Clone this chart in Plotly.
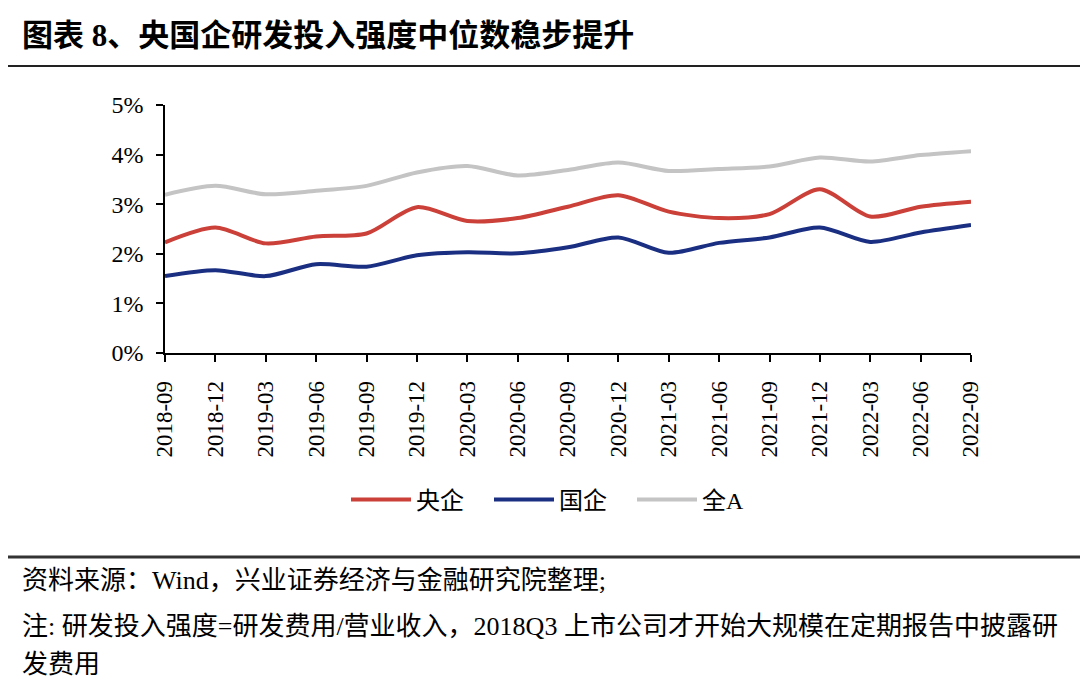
import plotly.graph_objects as go

W, H = 1080, 689
L, R, T, B = 165, 971, 105, 353  # plot area in pixels

dates = ["2018-09", "2018-12", "2019-03", "2019-06", "2019-09", "2019-12",
         "2020-03", "2020-06", "2020-09", "2020-12", "2021-03", "2021-06",
         "2021-09", "2021-12", "2022-03", "2022-06", "2022-09"]
central_soe = [2.23, 2.53, 2.21, 2.35, 2.41, 2.94, 2.66, 2.72, 2.95, 3.18,
               2.85, 2.72, 2.80, 3.30, 2.75, 2.95, 3.05]
soe = [1.55, 1.67, 1.55, 1.79, 1.74, 1.97, 2.03, 2.01, 2.13, 2.33,
       2.02, 2.22, 2.33, 2.53, 2.24, 2.43, 2.58]
all_a = [3.19, 3.37, 3.20, 3.27, 3.37, 3.64, 3.77, 3.58, 3.69, 3.84,
         3.67, 3.71, 3.76, 3.94, 3.86, 3.99, 4.07]
y_ticks = [0, 1, 2, 3, 4, 5]
y_labels = ["0%", "1%", "2%", "3%", "4%", "5%"]

SERIF = "Liberation Serif, Times New Roman, Noto Sans CJK SC, serif"

fig = go.Figure()
for name, vals, color in [("央企", central_soe, "#CB4038"),
                          ("国企", soe, "#1B2F82"),
                          ("全A", all_a, "#C4C4C4")]:
    fig.add_trace(go.Scatter(x=dates, y=vals, name=name, mode="lines",
                             line=dict(color=color, width=4, shape="spline",
                                       smoothing=0.8)))

def px(x):
    return (x - L) / (R - L)

def py(y):
    return (B - y) / (B - T)

fig.update_layout(
    width=W, height=H,
    margin=dict(l=L, r=W - R, t=T, b=H - B, autoexpand=False),
    paper_bgcolor="white", plot_bgcolor="white",
    font=dict(family=SERIF, color="black", size=20),
    xaxis=dict(type="category", range=[0, len(dates) - 1], automargin=False,
               showline=True, linecolor="black", linewidth=1.5,
               ticks="outside", ticklen=7, tickwidth=1.5, tickcolor="black",
               tickangle=-90, tickfont=dict(size=23, family=SERIF),
               ticklabelstandoff=10,
               showgrid=False, zeroline=False),
    yaxis=dict(range=[0, 5], automargin=False,
               tickvals=y_ticks, ticktext=y_labels,
               showline=True, linecolor="black", linewidth=1.5,
               ticks="outside", ticklen=7, tickwidth=1.5, tickcolor="black",
               tickfont=dict(size=24, family=SERIF),
               ticklabelstandoff=8,
               showgrid=False, zeroline=False),
    legend=dict(orientation="h", x=px(346), y=py(500), xanchor="left",
                yanchor="middle", font=dict(size=24, family=SERIF),
                entrywidth=68, itemwidth=60, bgcolor="rgba(0,0,0,0)"),
    showlegend=True,
)

fig.add_shape(type="line", xref="paper", yref="paper",
              x0=px(8), x1=px(W), y0=py(66), y1=py(66),
              line=dict(color="#222", width=2))
fig.add_shape(type="line", xref="paper", yref="paper",
              x0=px(8), x1=px(W), y0=py(557), y1=py(557),
              line=dict(color="#333", width=3))

fig.add_annotation(xref="paper", yref="paper", x=px(20), y=py(35),
                   xanchor="left", yanchor="middle", showarrow=False,
                   text="<b>图表 8、央国企研发投入强度中位数稳步提升</b>",
                   font=dict(size=31, family=SERIF))
fig.add_annotation(xref="paper", yref="paper", x=px(20), y=py(580),
                   xanchor="left", yanchor="middle", showarrow=False,
                   text="资料来源：Wind，兴业证券经济与金融研究院整理;",
                   font=dict(size=26, family=SERIF))
fig.add_annotation(xref="paper", yref="paper", x=px(20), y=py(626),
                   xanchor="left", yanchor="middle", showarrow=False,
                   text="注: 研发投入强度=研发费用/营业收入，2018Q3 上市公司才开始大规模在定期报告中披露研",
                   font=dict(size=26, family=SERIF))
fig.add_annotation(xref="paper", yref="paper", x=px(20), y=py(664),
                   xanchor="left", yanchor="middle", showarrow=False,
                   text="发费用",
                   font=dict(size=26, family=SERIF))

fig.write_html("out.html", config={"displayModeBar": False},
               post_script="document.body.style.margin='0';document.body.style.overflow='hidden';")
